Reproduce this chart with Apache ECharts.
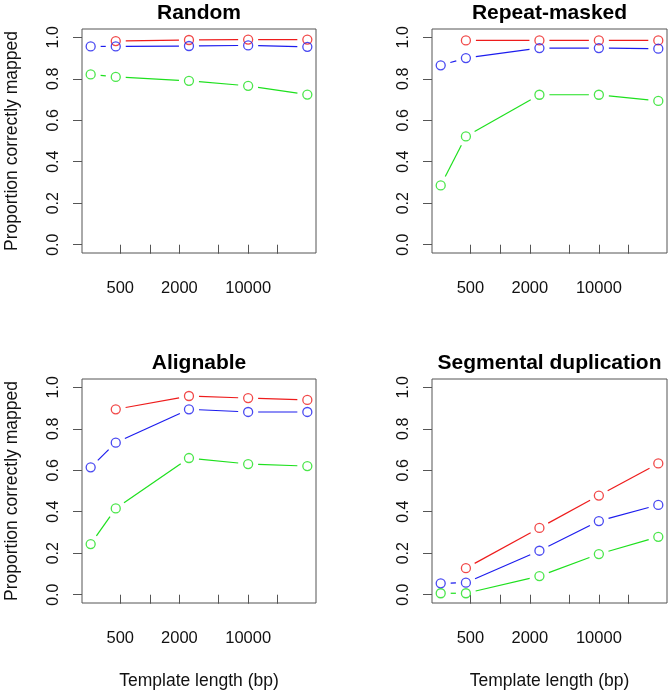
<!DOCTYPE html>
<html>
<head>
<meta charset="utf-8">
<script src="https://cdn.jsdelivr.net/npm/echarts@6/dist/echarts.min.js"></script>
<style>
html,body{margin:0;padding:0;background:#fff;}
#chart{width:672px;height:694px;}
</style>
</head>
<body>
<div id="chart"></div>
<script>
// ---- data ----
var templateLengths = [250, 450, 2500, 10000, 40000];
var panelTitles = ['Random', 'Repeat-masked', 'Alignable', 'Segmental duplication'];

var randomRed   = [null, 0.982, 0.987, 0.989, 0.989];
var randomBlue  = [0.956, 0.956, 0.958, 0.961, 0.954];
var randomGreen = [0.821, 0.809, 0.790, 0.766, 0.724];

var repeatRed   = [null, 0.985, 0.985, 0.985, 0.985];
var repeatBlue  = [0.865, 0.900, 0.948, 0.948, 0.945];
var repeatGreen = [0.286, 0.522, 0.723, 0.723, 0.693];

var alignRed    = [null, 0.894, 0.958, 0.948, 0.939];
var alignBlue   = [0.614, 0.733, 0.894, 0.881, 0.881];
var alignGreen  = [0.244, 0.416, 0.659, 0.630, 0.620];

var segdupRed   = [null, 0.128, 0.322, 0.478, 0.633];
var segdupBlue  = [0.055, 0.058, 0.212, 0.355, 0.433];
var segdupGreen = [0.007, 0.007, 0.090, 0.196, 0.279];

var yTicks = [0, 0.2, 0.4, 0.6, 0.8, 1.0];
var xTicks = [500, 1000, 2000, 5000, 10000, 20000];
var xTickLabels = [500, 2000, 10000];
var yAxisTitle = 'Proportion correctly mapped';
var xAxisTitle = 'Template length (bp)';

// ---- styling / layout ----
var FONT = '"Liberation Sans", Arial, Helvetica, sans-serif';
var COLORS = {red: '#ee1c1c', blue: '#1c1cee', green: '#1ee01e'};
var AXIS_COL = '#555555';
var TEXT_COL = '#111111';
var GAP = 10;

var panels = [
  {red: randomRed, blue: randomBlue, green: randomGreen},
  {red: repeatRed, blue: repeatBlue, green: repeatGreen},
  {red: alignRed, blue: alignBlue, green: alignGreen},
  {red: segdupRed, blue: segdupBlue, green: segdupGreen}
];
var grids = [
  {left: 82, top: 29, width: 234, height: 224},
  {left: 432, top: 29, width: 235, height: 224},
  {left: 82, top: 379, width: 234, height: 224},
  {left: 432, top: 379, width: 235, height: 224}
];

// R-style axis range extension (4%)
var lx0 = Math.log10(templateLengths[0]), lx1 = Math.log10(templateLengths[templateLengths.length - 1]);
var ext = (lx1 - lx0) * 0.04;
var xMin = Math.pow(10, lx0 - ext), xMax = Math.pow(10, lx1 + ext);

var option = {
  animation: false,
  backgroundColor: '#ffffff',
  title: [], grid: [], xAxis: [], yAxis: [], series: []
};

panels.forEach(function (p, i) {
  var g = grids[i];
  var isLeft = (i % 2 === 0), isBottom = (i >= 2);
  option.grid.push({
    left: g.left, top: g.top, width: g.width, height: g.height,
    show: true, borderColor: AXIS_COL, borderWidth: 1, backgroundColor: 'transparent',
    containLabel: false, outerBoundsMode: 'none'
  });
  option.title.push({
    text: panelTitles[i],
    left: g.left + g.width / 2,
    top: g.top - 26,
    textAlign: 'center',
    padding: 0,
    textStyle: {fontFamily: FONT, fontSize: 21, fontWeight: 'bold', color: '#000'}
  });
  option.xAxis.push({
    type: 'log', gridIndex: i, min: xMin, max: xMax,
    axisLine: {show: false},
    splitLine: {show: false}, minorTick: {show: false}, minorSplitLine: {show: false},
    axisTick: {show: true, inside: false, length: 9, customValues: xTicks,
      lineStyle: {color: AXIS_COL, width: 1}},
    axisLabel: {show: true, customValues: xTickLabels, margin: 27,
      fontFamily: FONT, fontSize: 16.5, color: TEXT_COL,
      formatter: function (v) { return String(Math.round(v)); }},
    name: isBottom ? xAxisTitle : '',
    nameLocation: 'middle', nameGap: 69,
    nameTextStyle: {fontFamily: FONT, fontSize: 17.5, color: TEXT_COL}
  });
  option.yAxis.push({
    type: 'value', gridIndex: i, min: -0.04, max: 1.04,
    axisLine: {show: false},
    splitLine: {show: false},
    axisTick: {show: true, inside: false, length: 9, customValues: yTicks,
      lineStyle: {color: AXIS_COL, width: 1}},
    axisLabel: {show: true, customValues: yTicks, rotate: 90, margin: 20,
      fontFamily: FONT, fontSize: 16, color: TEXT_COL,
      formatter: function (v) { return (Math.round(v * 10) / 10).toFixed(1); }},
    name: isLeft ? yAxisTitle : '',
    nameLocation: 'middle', nameGap: 61,
    nameTextStyle: {fontFamily: FONT, fontSize: 17.5, color: TEXT_COL}
  });

  ['red', 'blue', 'green'].forEach(function (cname) {
    var vals = p[cname];
    var col = COLORS[cname];
    var pts = [];
    templateLengths.forEach(function (x, k) { if (vals[k] != null) pts.push([x, vals[k]]); });
    var segs = [];
    for (var k = 0; k + 1 < pts.length; k++) segs.push([pts[k][0], pts[k][1], pts[k + 1][0], pts[k + 1][1]]);
    option.series.push({
      type: 'custom', xAxisIndex: i, yAxisIndex: i,
      data: segs, encode: {x: [0, 2], y: [1, 3]}, silent: true,
      renderItem: (function (c) {
        return function (params, api) {
          var a = api.coord([api.value(0), api.value(1)]);
          var b = api.coord([api.value(2), api.value(3)]);
          var dx = b[0] - a[0], dy = b[1] - a[1];
          var L = Math.sqrt(dx * dx + dy * dy);
          if (L <= 2 * GAP + 0.5) return null;
          var ux = dx / L, uy = dy / L;
          return {
            type: 'line',
            shape: {x1: a[0] + ux * GAP, y1: a[1] + uy * GAP, x2: b[0] - ux * GAP, y2: b[1] - uy * GAP},
            style: {stroke: c, lineWidth: 1.2}
          };
        };
      })(col)
    });
    option.series.push({
      type: 'scatter', xAxisIndex: i, yAxisIndex: i,
      data: pts, symbol: 'circle', symbolSize: 9, silent: true,
      itemStyle: {color: 'rgba(0,0,0,0)', borderColor: col, borderWidth: 1.3}
    });
  });
});

var chart = echarts.init(document.getElementById('chart'), null, {renderer: 'canvas'});
chart.setOption(option);
</script>
</body>
</html>
